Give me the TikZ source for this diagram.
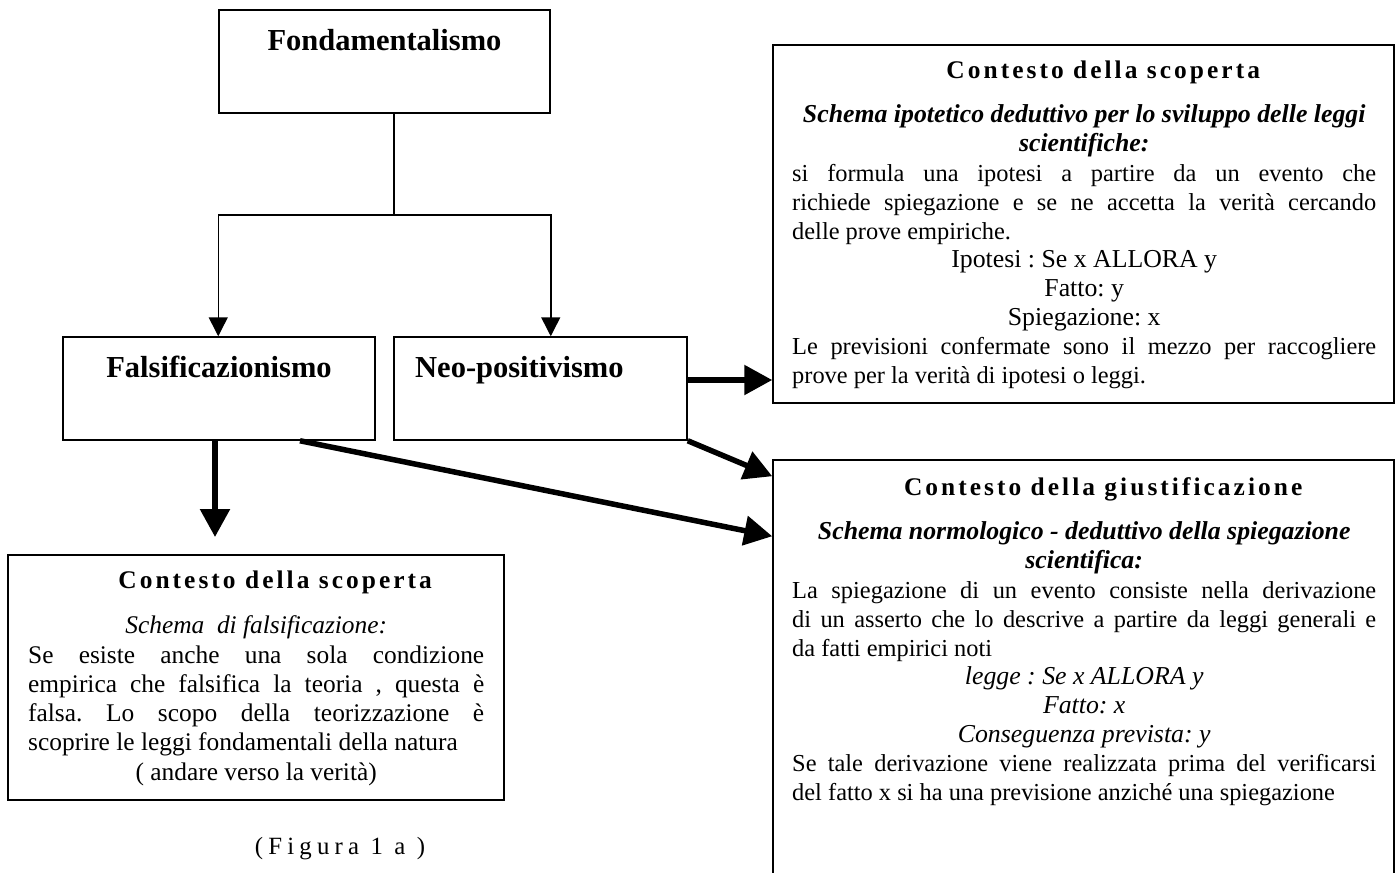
\documentclass[tikz,border=0pt]{standalone}
\usepackage{fontspec}
\setmainfont{Liberation Serif}
\usetikzlibrary{arrows.meta}

% type sizes
\newcommand\bodysize{\fontsize{24.8}{28.8}\selectfont}
\newcommand\headsize{\fontsize{30.5}{34}\selectfont\bfseries}
\newcommand\centresize{\fontsize{25.8}{28.8}\selectfont}
\newcommand\spacedtitle{\fontsize{25.4}{28.8}\selectfont\bfseries\addfontfeatures{LetterSpace=12}}
\newcommand\spacedcaption{\addfontfeatures{LetterSpace=21}}
% justified paragraphs inside the text blocks: #1 = type size, #2 = line distance
\newcommand\blocksetup[2]{\setlength\parindent{0pt}\setlength\parskip{0pt}%
  \leftskip=0pt \rightskip=0pt \parfillskip=0pt plus 1fil \frenchspacing
  \hbadness=10000 \tolerance=10000 \hyphenpenalty=10000 \exhyphenpenalty=10000
  \fontsize{#1}{#2}\selectfont}
% a top-aligned justified block: #1 = width, #2 = type size, #3 = line distance
\newenvironment{textcolumn}[3]{\begin{minipage}[t]{#1}\blocksetup{#2}{#3}}{\end{minipage}}

\tikzset{
  frame/.style={draw=black, line width=1.5pt, inner sep=0pt},
  heading/.style={inner sep=0pt, font=\headsize},
  textblock/.style={inner sep=0pt, anchor=north west},
  link/.style={draw=black, line width=1.5pt},
  linkarrow/.style={link, -{Triangle[width=19pt,length=19pt]}},
  boldarrow/.style={draw=black, line width=5.5pt, -{Triangle[width=29pt,length=28pt]}},
}

\begin{document}
\begin{tikzpicture}[x=1pt,y=-1pt]
\useasboundingbox (0,0) rectangle (1398,873);

% ---- hierarchy boxes
\node[frame, minimum width=331pt, minimum height=103pt] (fond)   at (384.5,61.5) {};
\node[frame, minimum width=312pt, minimum height=103pt] (falsif) at (219,388.5) {};
\node[frame, minimum width=293pt, minimum height=103pt] (neo)    at (540.5,388.5) {};

\node[heading, anchor=base]      (fondlbl)   at (384.5,50) {Fondamentalismo};
\node[heading, anchor=base]      (falsiflbl) at (219,377)  {Falsificazionismo};
\node[heading, anchor=base west] (neolbl)    at (415,377)  {Neo-positivismo};

% ---- context boxes
\node[frame, minimum width=621pt, minimum height=358pt] (rtop) at (1083.5,224) {};
\node[frame, minimum width=621pt, minimum height=433pt] (rbot) at (1083.5,676.5) {};
\node[frame, minimum width=496pt, minimum height=245pt] (lbox) at (256,677.5) {};

\node[textblock] (rtoptext) at (792,58) {\begin{textcolumn}{584pt}{24.4}{28.8}
  {\centering\strut\hspace*{38pt}\spacedtitle Contesto della scoperta\par}
  \vspace{15.2pt}
  {\centering\centresize\bfseries\itshape Schema ipotetico deduttivo per lo sviluppo delle leggi\\ scientifiche:\par}
  \vspace{1.5pt}
  si formula una ipotesi a partire da un evento che\linebreak
  richiede spiegazione e se ne accetta la verità cercando\linebreak
  delle prove empiriche.\par
  {\centering\centresize Ipotesi : Se x ALLORA y\\ Fatto: y\\ Spiegazione: x\par}
  Le previsioni confermate sono il mezzo per raccogliere\linebreak
  prove per la verità di ipotesi o leggi.\par
  \end{textcolumn}};

\node[textblock] (rbottext) at (792,475) {\begin{textcolumn}{584pt}{24.4}{28.8}
  {\centering\strut\hspace*{38pt}\spacedtitle Contesto della giustificazione\par}
  \vspace{15.2pt}
  {\centering\centresize\bfseries\itshape Schema normologico - deduttivo della spiegazione\\ scientifica:\par}
  \vspace{1.5pt}
  La spiegazione di un evento consiste nella derivazione\linebreak
  di un asserto che lo descrive a partire da leggi generali e\linebreak
  da fatti empirici noti\par
  {\centering\centresize\itshape legge : Se x ALLORA y\\ Fatto: x\\ Conseguenza prevista: y\par}
  Se tale derivazione viene realizzata prima del verificarsi\linebreak
  del fatto x si ha una previsione anziché una spiegazione\par
  \end{textcolumn}};

\node[textblock] (lboxtext) at (28,568) {\begin{textcolumn}{456pt}{25.4}{29.2}
  {\centering\strut\hspace*{38pt}\spacedtitle Contesto della scoperta\par}
  \vspace{15.2pt}
  {\centering\itshape Schema\ \ di falsificazione:\par}
  \vspace{1pt}
  Se esiste anche una sola condizione\linebreak
  empirica che falsifica la teoria , questa è\linebreak
  falsa. Lo scopo della teorizzazione è\linebreak
  scoprire le leggi fondamentali della natura\par
  {\centering ( andare verso la verità)\par}
  \end{textcolumn}};

\node[inner sep=0pt, anchor=base, font=\bodysize\spacedcaption] (caption) at (340,854) {(Figura 1 a )};

% ---- connectors
\coordinate (fork) at (394,215);
\draw[link] (fond.south -| fork) -- (fork);
\draw[linkarrow] (fork) -| (fond.west |- falsif.north);
\draw[linkarrow] (fork) -| (fond.east |- neo.north);

\coordinate (downtip) at (215,537);
\draw[boldarrow] (falsif.south -| downtip) -- (downtip);

\coordinate (midrow) at ([yshift=8.5pt]neo.east);
\draw[boldarrow] (midrow) -- (midrow -| rtop.west);
\draw[boldarrow] (neo.south east) -- ([yshift=-17pt]rbot.north west);
\draw[boldarrow] ([xshift=81pt]falsif.south) -- ([yshift=-77pt]rbot.north west);
\end{tikzpicture}
\end{document}
